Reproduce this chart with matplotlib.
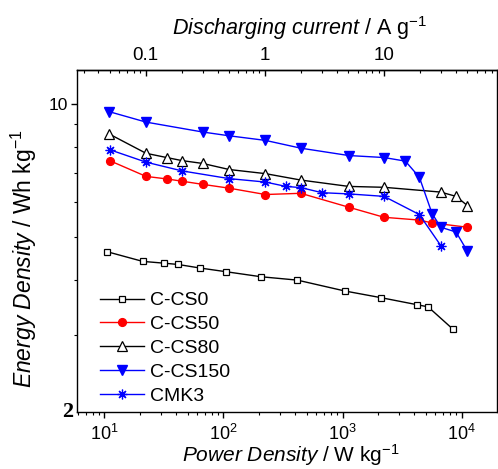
import matplotlib
matplotlib.use("Agg")
import matplotlib.pyplot as plt
from matplotlib.ticker import FixedLocator, NullFormatter, LogLocator, FixedFormatter

plt.rcParams['font.family'] = ['Liberation Sans', 'DejaVu Sans']
plt.rcParams['mathtext.fontset'] = 'custom'
plt.rcParams['mathtext.rm'] = 'Liberation Sans'
plt.rcParams['mathtext.it'] = 'Liberation Sans:italic'
plt.rcParams['mathtext.bf'] = 'Liberation Sans:bold'

# ---- data ----
p_ccs0 = [10.5, 21.0, 31.5, 41.6, 63.6, 104.5, 208, 417, 1043, 2106, 4198, 5224, 8422]
e_ccs0 = [4.63, 4.40, 4.36, 4.33, 4.25, 4.17, 4.06, 3.99, 3.77, 3.64, 3.51, 3.47, 3.09]

p_ccs50 = [11.2, 22.4, 33.4, 44.9, 67.0, 112, 225, 446, 1127, 2231, 4414, 5644, 11170]
e_ccs50 = [7.44, 6.86, 6.77, 6.69, 6.58, 6.45, 6.24, 6.28, 5.84, 5.54, 5.46, 5.38, 5.26]

p_ccs80 = [11.0, 22.4, 33.4, 44.9, 67.0, 112, 225, 446, 1127, 2231, 6675, 8974, 11170]
e_ccs80 = [8.56, 7.74, 7.57, 7.45, 7.34, 7.11, 6.96, 6.73, 6.51, 6.48, 6.32, 6.18, 5.89]

p_ccs150 = [11.0, 22.4, 67.0, 112, 225, 446, 1127, 2231, 3368, 4414, 5644, 6675, 8974, 11170]
e_ccs150 = [9.62, 9.11, 8.65, 8.48, 8.28, 7.95, 7.65, 7.57, 7.43, 6.83, 5.65, 5.26, 5.13, 4.64]

p_cmk3 = [11.2, 22.4, 44.9, 112, 225, 335, 446, 673, 1127, 2231, 4414, 6675]
e_cmk3 = [7.88, 7.39, 7.06, 6.78, 6.66, 6.51, 6.47, 6.30, 6.26, 6.18, 5.62, 4.78]

labels = ["C-CS0", "C-CS50", "C-CS80", "C-CS150", "CMK3"]
current_ticks = [0.1, 1, 10]
current_tick_labels = ["0.1", "1", "10"]
ratio = 223.0  # W kg-1 per A g-1 (top axis scale)

fig = plt.figure(figsize=(4.98, 4.69), dpi=100)
ax = fig.add_axes([77/498, 1-412.3/469, 420/498, (412.3-70)/469])

ast = (8, 2, 0)
ax.plot(p_ccs0, e_ccs0, color='black', lw=1.0, marker='s', ms=4.6,
        mfc='white', mec='black', mew=0.9, label=labels[0])
ax.plot(p_ccs50, e_ccs50, color='#ff0000', lw=1.0, marker='o', ms=5.6,
        mfc='#ff0000', mec='#ff0000', label=labels[1])
ax.plot(p_ccs80, e_ccs80, color='black', lw=1.0, marker='^', ms=6.5,
        mfc='white', mec='black', mew=0.9, label=labels[2])
ax.plot(p_ccs150, e_ccs150, color='#0000ff', lw=1.0, marker='v', ms=6.5,
        mfc='#0000ff', mec='#0000ff', label=labels[3])
ax.plot(p_cmk3, e_cmk3, color='#0000ff', lw=1.0, marker=ast, ms=7,
        mfc='#0000ff', mec='#0000ff', mew=0.9, label=labels[4])

ax.set_xscale('log')
ax.set_yscale('log')
ax.set_xlim(5.9, 19800)
ax.set_ylim(2, 11.96)

# y ticks
ax.yaxis.set_major_locator(FixedLocator([10]))
ax.yaxis.set_major_formatter(FixedFormatter(["10"]))
ax.yaxis.set_minor_locator(FixedLocator([3, 4, 5, 6, 7, 8, 9]))
ax.yaxis.set_minor_formatter(NullFormatter())
ax.text(-0.01, 0.0, "2", transform=ax.transAxes, ha='right', va='center',
        fontsize=16, fontweight='bold', family='Liberation Serif')

ax.xaxis.set_major_locator(LogLocator(base=10, numticks=10))
ax.xaxis.set_minor_locator(LogLocator(base=10, subs=range(2, 10), numticks=20))

for s in ax.spines.values():
    s.set_linewidth(1.0)

ax.tick_params(axis='both', which='major', direction='out', length=4.5, width=1.0, labelsize=13)
ax.tick_params(axis='both', which='minor', direction='out', length=2.5, width=0.8)
ax.tick_params(axis='x', which='major', pad=4)
ax.tick_params(axis='y', which='major', pad=2, labelsize=12.5)
ax.tick_params(right=False, top=False, which='both')

sec = ax.secondary_xaxis('top', functions=(lambda p: p / ratio, lambda i: i * ratio))
sec.xaxis.set_major_locator(FixedLocator(current_ticks))
sec.xaxis.set_major_formatter(FixedFormatter(current_tick_labels))
sec.xaxis.set_minor_locator(LogLocator(base=10, subs=range(2, 10), numticks=20))
sec.xaxis.set_minor_formatter(NullFormatter())
sec.tick_params(which='major', direction='in', length=4.5, width=1.0, labelsize=13.5, pad=4)
sec.tick_params(which='minor', direction='in', length=2.5, width=0.8)
sec.spines['top'].set_linewidth(1.0)

fig.text(291/498, 1-462/469, r"$\mathit{Power\ Density}$ / W kg$^{-1}$",
         ha='center', va='baseline', fontsize=15)
fig.text(300/498, 1-35/469, r"$\mathit{Discharging\ current}$ / A g$^{-1}$",
         ha='center', va='baseline', fontsize=15.5)
fig.text(24/498, 1-259/469, r"$\mathit{Energy\ Density}$ / Wh kg$^{-1}$",
         ha='center', va='center', rotation=90, fontsize=16.5)

leg = ax.legend(loc='lower left', bbox_to_anchor=((100-77)/420, 0.022),
                frameon=False, fontsize=14, numpoints=1, handlelength=2.27,
                handletextpad=0.31, labelspacing=0.32, borderpad=0, borderaxespad=0)

fig.savefig("out.png", dpi=100)
